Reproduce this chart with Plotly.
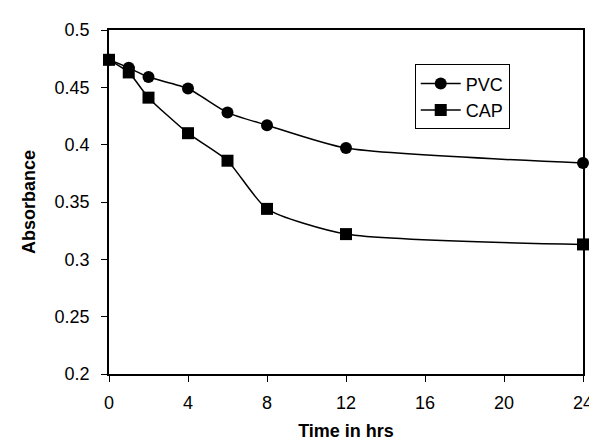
import plotly.graph_objects as go

time_hrs = [0, 1, 2, 4, 6, 8, 12, 24]
pvc = [0.474, 0.467, 0.459, 0.449, 0.428, 0.417, 0.397, 0.384]
cap = [0.474, 0.463, 0.441, 0.410, 0.386, 0.344, 0.322, 0.313]
x_ticks = [0, 4, 8, 12, 16, 20, 24]
y_ticks = [0.2, 0.25, 0.3, 0.35, 0.4, 0.45, 0.5]
y_ticktext = ["0.2", "0.25", "0.3", "0.35", "0.4", "0.45", "0.5"]

fig = go.Figure()
fig.add_trace(go.Scatter(
    x=time_hrs, y=pvc, name="PVC", mode="lines+markers",
    line=dict(color="black", width=1.5, shape="spline", smoothing=0.6),
    marker=dict(symbol="circle", size=12, color="black"),
    cliponaxis=False,
))
fig.add_trace(go.Scatter(
    x=time_hrs, y=cap, name="CAP", mode="lines+markers",
    line=dict(color="black", width=1.5, shape="spline", smoothing=0.6),
    marker=dict(symbol="square", size=12, color="black"),
    cliponaxis=False,
))

font_family = "Liberation Sans, Arial, sans-serif"
fig.update_layout(
    width=597, height=446,
    margin=dict(l=101, r=14, t=15, b=80),
    paper_bgcolor="white", plot_bgcolor="white",
    font=dict(family=font_family, size=18, color="black"),
    showlegend=True,
    legend=dict(
        x=0.645, y=0.9, xanchor="left", yanchor="top",
        bordercolor="black", borderwidth=1, bgcolor="white",
        font=dict(size=18), itemwidth=40, tracegroupgap=0,
    ),
    xaxis=dict(
        range=[0, 24], tickvals=x_ticks, ticktext=[str(v) for v in x_ticks],
        showline=True, linecolor="black", linewidth=1.5, mirror=True,
        ticks="outside", ticklen=6, tickcolor="black",
        showgrid=False, zeroline=False, ticklabelstandoff=6,
        title=dict(text="<b>Time in hrs</b>", font=dict(size=18), standoff=12),
        tickfont=dict(size=18),
    ),
    yaxis=dict(
        range=[0.2, 0.5], tickvals=y_ticks, ticktext=y_ticktext,
        showline=True, linecolor="black", linewidth=1.5, mirror=True,
        ticks="outside", ticklen=6, tickcolor="black",
        showgrid=False, zeroline=False, ticklabelstandoff=8,
        title=dict(text="<b>Absorbance</b>", font=dict(size=18), standoff=14),
        tickfont=dict(size=18),
    ),
)

fig.write_html("out.html")
